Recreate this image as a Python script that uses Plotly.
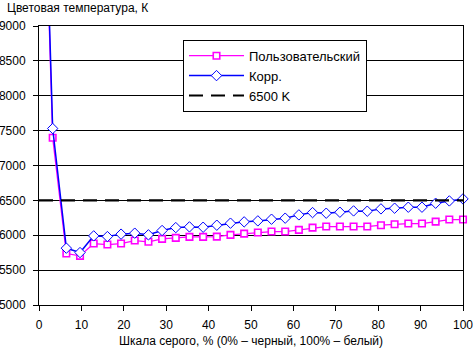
import plotly.graph_objects as go

# Grey-scale level, % (32 measurement steps from black to white)
gray_pct = [i * 100 / 31 for i in range(32)]

# Colour temperature, K — user preset
user_temp = [13800, 7398, 5738, 5705, 5881, 5867, 5881, 5924, 5906, 5948,
             5963, 5977, 5977, 5981, 6006, 6024, 6039, 6053, 6053, 6077,
             6110, 6125, 6125, 6125, 6125, 6144, 6158, 6168, 6168, 6196,
             6225, 6225]

# Colour temperature, K — corrected profile
corr_temp = [14000, 7530, 5815, 5752, 5991, 5981, 6016, 6030, 6006, 6068,
             6110, 6120, 6115, 6144, 6173, 6192, 6206, 6230, 6245, 6292,
             6325, 6316, 6330, 6349, 6345, 6378, 6388, 6402, 6402, 6459,
             6492, 6521]

# Reference white point
ref_x = [0, 100]
ref_temp = [6500, 6500]

series_names = ["Пользовательский", "Корр.", "6500 K"]
y_title = "Цветовая температура, К"
x_title = "Шкала серого, % (0% – черный, 100% – белый)"

FONT = "Liberation Sans, Arial, sans-serif"

fig = go.Figure()

fig.add_trace(go.Scatter(
    x=gray_pct, y=user_temp, name=series_names[0], mode="lines+markers",
    line=dict(color="#FF00FF", width=1.3),
    marker=dict(symbol="square", size=6.5, color="white",
                line=dict(color="#FF00FF", width=1.6)),
    cliponaxis=False,
))
fig.add_trace(go.Scatter(
    x=gray_pct, y=corr_temp, name=series_names[1], mode="lines+markers",
    line=dict(color="#0000FF", width=1.5),
    marker=dict(symbol="diamond", size=8, color="white",
                line=dict(color="#0000FF", width=1)),
    cliponaxis=False,
))
fig.add_trace(go.Scatter(
    x=ref_x, y=ref_temp, name=series_names[2], mode="lines",
    line=dict(color="black", width=2.2, dash="14px,8px"),
))

fig.update_layout(
    width=473, height=349,
    margin=dict(l=39, r=10, t=26, b=44),
    paper_bgcolor="white", plot_bgcolor="white",
    font=dict(family=FONT, size=12, color="black"),
    showlegend=True,
    legend=dict(
        x=(183 - 39) / 424, y=(305.3 - 39.5) / 279.6,
        xanchor="left", yanchor="top",
        bgcolor="white", bordercolor="black", borderwidth=1,
        font=dict(family=FONT, size=13, color="black"),
        itemwidth=55,
        tracegroupgap=0,
    ),
    xaxis=dict(
        range=[0, 100], tickmode="linear", tick0=0, dtick=10,
        showgrid=False, zeroline=False, automargin=False,
        showline=True, linecolor="black", linewidth=1, mirror=True,
        ticks="outside", ticklen=5, tickcolor="black",
        tickfont=dict(family=FONT, size=12),
        ticklabelstandoff=4, ticklabeloverflow="allow",
    ),
    yaxis=dict(
        range=[5000, 9000], tickmode="linear", tick0=5000, dtick=500,
        showgrid=True, gridcolor="black", gridwidth=1, zeroline=False,
        automargin=False,
        showline=True, linecolor="black", linewidth=1, mirror=True,
        ticks="outside", ticklen=5, tickcolor="black",
        tickfont=dict(family=FONT, size=12),
        ticklabelstandoff=5, ticklabeloverflow="allow",
    ),
    annotations=[
        dict(text=y_title, xref="paper", yref="paper",
             x=-34 / 424, y=1 + 18 / 279.6, xanchor="left", yanchor="middle",
             showarrow=False, font=dict(family=FONT, size=12)),
        dict(text=x_title, xref="paper", yref="paper",
             x=0.5, y=-36.5 / 279.6, xanchor="center", yanchor="middle",
             showarrow=False, font=dict(family=FONT, size=12)),
    ],
)

fig.write_html("out.html")
